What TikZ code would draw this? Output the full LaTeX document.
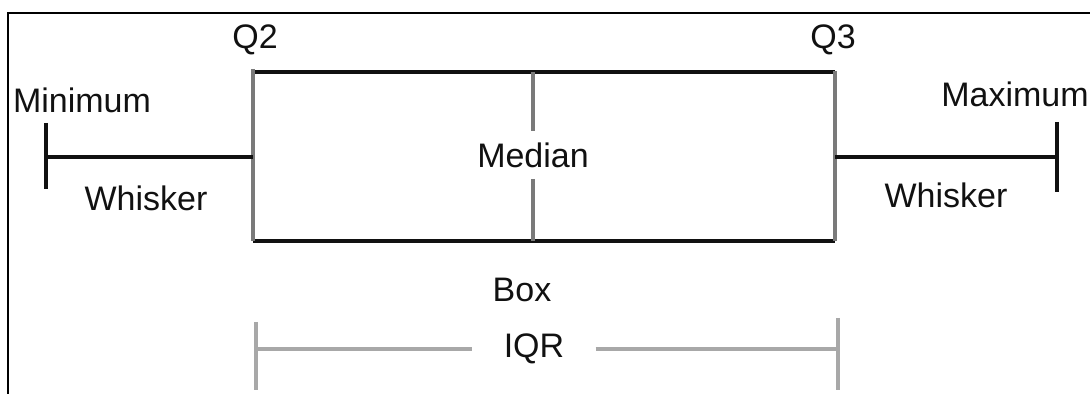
\documentclass[tikz,border=0pt]{standalone}
\usepackage{fontspec}
\setmainfont{Liberation Sans}
\usetikzlibrary{positioning,calc}
\definecolor{linec}{HTML}{111111}
\definecolor{sidec}{HTML}{7A7A7A}
\definecolor{iqrc}{HTML}{A8A8A8}
\tikzset{
  lbl/.style={font=\fontsize{17}{20}\selectfont,inner sep=0pt,text=linec},
  blk/.style={draw=linec,line width=1.8pt},
  side/.style={draw=sidec,line width=1.8pt},
  iqr/.style={draw=iqrc,line width=1.9pt},
  frame/.style={draw=black,line width=1.4pt},
}

\begin{document}
\begin{tikzpicture}[x=0.5pt,y=-0.5pt]
  \useasboundingbox (0,0) rectangle (1090,394);
  \draw[frame] (1090,13) -- (8,13) -- (8,394);
  % box corners
  \coordinate (q2t) at (253,72);\coordinate (q2b) at (253,241);
  \coordinate (q3t) at (835,72);\coordinate (q3b) at (835,241);
  \coordinate (medt) at (533,72);\coordinate (medb) at (533,241);
  % whisker ends
  \coordinate (minc) at (46,157);\coordinate (maxc) at (1057,157);
  \node[lbl] (q2) at (255,40) {Q2};
  \node[lbl] (q3) at (833,40) {Q3};
  \node[lbl] (mini) at (82,100) {Minimum};
  \node[lbl] (maxi) at (1015,94) {Maximum};
  \node[lbl] (wl) at (146,198) {Whisker};
  \node[lbl] (wr) at (946,195) {Whisker};
  \node[lbl,inner ysep=5.5pt] (med) at (533,155) {Median};
  \node[lbl] (box) at (522,290) {Box};
  \node[lbl,inner xsep=15.5pt] (iqr) at (534,349) {IQR};
  % box
  \draw[blk] (q2t) -- (q3t) (q2b) -- (q3b);
  \draw[side] ($(q2t)+(0,-3)$) -- (q2b) ($(q3t)+(0,-1)$) -- (q3b);
  \draw[side] (medt) -- (med.north) (med.south) -- (medb);
  % whiskers
  \draw[blk] (minc) -- (q2t|-minc);
  \draw[blk] ($(minc)+(0,-34)$) -- ($(minc)+(0,32)$);
  \draw[blk] (q3t|-maxc) -- (maxc);
  \draw[blk] ($(maxc)+(0,-35)$) -- ($(maxc)+(0,35)$);
  % IQR bracket
  \coordinate (il) at (256,349);\coordinate (ir) at (838,349);
  \draw[iqr] ($(il)+(0,-27)$) -- ($(il)+(0,41)$);
  \draw[iqr] ($(ir)+(0,-31)$) -- ($(ir)+(0,41)$);
  \draw[iqr] (il) -- (iqr.west) (iqr.east) -- (ir);
\end{tikzpicture}
\end{document}
